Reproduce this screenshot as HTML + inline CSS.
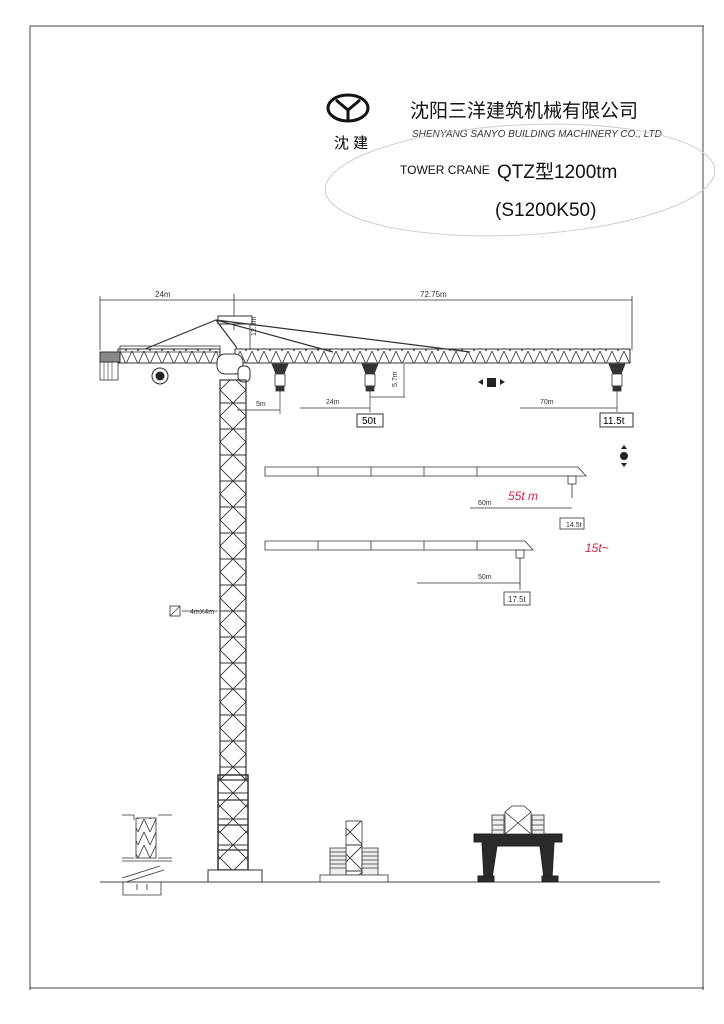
<!DOCTYPE html>
<html><head><meta charset="utf-8"><style>
html,body{margin:0;padding:0;background:#fff;}
svg{display:block}
text{font-family:"Liberation Sans","Noto Sans CJK SC",sans-serif;}
</style></head><body>
<svg width="724" height="1024" viewBox="0 0 724 1024" xmlns="http://www.w3.org/2000/svg">
<defs>
<pattern id="truss" x="0" y="0" width="12" height="13" patternUnits="userSpaceOnUse">
<path d="M0 0 L6 13 L12 0" stroke="#333" stroke-width="0.8" fill="none"/>
</pattern>
<pattern id="tower" x="220" y="0" width="26" height="26" patternUnits="userSpaceOnUse">
<path d="M0 0 L26 26 M26 0 L0 26 M0 13 H26" stroke="#333" stroke-width="0.9" fill="none"/>
</pattern>
</defs>
<!-- page border -->
<path d="M30 26 H704 M30 26 V990 M703 26 V990 M30 988 H704" stroke="#444" stroke-width="1" fill="none"/>

<!-- header -->
<g transform="translate(348,112)">
<ellipse cx="0" cy="-4" rx="20" ry="13" fill="none" stroke="#111" stroke-width="3"/>
<path d="M-12 -12 L0 -2 L12 -12 M0 -2 V8" stroke="#111" stroke-width="3" fill="none"/>
</g>
<text x="334" y="148" font-size="15">沈 建</text>
<text x="410" y="117" font-size="19" fill="#111">沈阳三洋建筑机械有限公司</text>
<text x="412" y="137" font-size="10" font-style="italic" font-family="Liberation Serif" fill="#333">SHENYANG SANYO BUILDING MACHINERY CO., LTD</text>
<text x="400" y="174" font-size="12" fill="#111">TOWER CRANE</text>
<text x="497" y="178" font-size="19" fill="#111">QTZ型1200tm</text>
<text x="495" y="216" font-size="19" fill="#111">(S1200K50)</text>
<ellipse cx="520" cy="180" rx="195" ry="55" fill="none" stroke="#ccc" stroke-width="1" transform="rotate(-3 520 180)"/>

<!-- dimension top -->
<g stroke="#333" stroke-width="0.8" fill="none">
<path d="M100 300 H632 M100 296 V350 M632 296 V350 M234 294 V330"/>
<path d="M250 320 V350"/>
</g>
<text x="155" y="297" font-size="8" fill="#333">24m</text>
<text x="420" y="297" font-size="8" fill="#333">72.75m</text>
<text x="256" y="336" font-size="7" fill="#333" transform="rotate(-90 256 336)">12.3m</text>

<!-- jib -->
<rect x="118" y="349" width="102" height="14" fill="url(#truss)" stroke="#333" stroke-width="1"/>
<rect x="235" y="349" width="395" height="14" fill="url(#truss)" stroke="#333" stroke-width="1"/>
<rect x="120" y="346" width="100" height="6" fill="none" stroke="#333" stroke-width="0.8"/>
<rect x="100" y="352" width="20" height="10" fill="#888" stroke="#333"/>
<rect x="100" y="362" width="18" height="18" fill="none" stroke="#333" stroke-width="0.8"/>
<path d="M104 362V380M108 362V380M112 362V380" stroke="#333" stroke-width="0.6"/>
<circle cx="160" cy="376" r="8" fill="#fff" stroke="#333"/>
<circle cx="160" cy="376" r="4.5" fill="#222"/>
<!-- apex -->
<rect x="218" y="316" width="34" height="8" fill="#fff" stroke="#333"/>
<path d="M145 349 L216 320 L333 352 M216 320 L470 352 M216 320 L237 348" stroke="#333" stroke-width="1.2" fill="none"/>
<rect x="217" y="354" width="26" height="20" rx="8" fill="#fff" stroke="#333"/>
<rect x="238" y="366" width="12" height="16" rx="5" fill="#fff" stroke="#333"/>

<!-- trolleys -->
<g fill="#333" stroke="#333" stroke-width="0.8">
<path d="M272 364 h16 l-4 10 h-8z"/><rect x="275" y="374" width="10" height="12" fill="#fff"/><rect x="276" y="386" width="8" height="5"/>
<path d="M362 364 h16 l-4 10 h-8z"/><rect x="365" y="374" width="10" height="12" fill="#fff"/><rect x="366" y="386" width="8" height="5"/>
<path d="M609 364 h16 l-4 10 h-8z"/><rect x="612" y="374" width="10" height="12" fill="#fff"/><rect x="613" y="386" width="8" height="5"/>
</g>
<g stroke="#333" stroke-width="0.7" fill="none">
<path d="M280 391 V414 M370 391 V412 M617 391 V412"/>
<path d="M237 410 H280 M300 408 H370 M520 408 H617 M370 397 H405 M404 364 V397"/>
</g>
<text x="256" y="406" font-size="7" fill="#333">5m</text>
<text x="326" y="404" font-size="7" fill="#333">24m</text>
<text x="540" y="404" font-size="7" fill="#333">70m</text>
<text x="397" y="387" font-size="7" fill="#333" transform="rotate(-90 397 387)">5.7m</text>
<rect x="357" y="414" width="26" height="13" fill="#fff" stroke="#333"/><text x="362" y="424" font-size="10">50t</text>
<rect x="600" y="413" width="33" height="14" fill="#fff" stroke="#333"/><text x="603" y="424" font-size="10">11.5t</text>
<rect x="487" y="378" width="9" height="9" fill="#222"/><path d="M478 382 l5 -3 v6z M505 382 l-5 -3 v6z" fill="#222"/>
<circle cx="624" cy="456" r="4" fill="#222"/><path d="M621 449 h6 l-3 -4z M621 463 h6 l-3 4z" fill="#222"/>

<!-- jib 2 -->
<g stroke="#333" stroke-width="0.8" fill="none">
<path d="M265 467 H578 L586 476 H265 Z M318 467V476 M371 467V476 M424 467V476 M477 467V476"/>
<path d="M572 476 V498 M470 508 H572"/>
<rect x="568" y="476" width="8" height="8" fill="#fff"/>
<rect x="560" y="518" width="24" height="11" fill="#fff"/>
<path d="M265 541 H525 L533 550 H265 Z M318 541V550 M371 541V550 M424 541V550 M477 541V550"/>
<path d="M520 550 V590 M417 583 H520"/>
<rect x="516" y="550" width="8" height="8" fill="#fff"/>
<rect x="504" y="592" width="26" height="13" fill="#fff"/>
</g>
<text x="478" y="505" font-size="7" fill="#333">60m</text>
<text x="566" y="527" font-size="7" fill="#333">14.5t</text>
<text x="478" y="579" font-size="7" fill="#333">50m</text>
<text x="508" y="602" font-size="8" fill="#333">17.5t</text>
<text x="508" y="500" font-size="12" fill="#d24" font-style="italic">55t m</text>
<text x="585" y="552" font-size="12" fill="#d24" font-style="italic">15t~</text>

<!-- tower -->
<rect x="220" y="380" width="26" height="400" fill="url(#tower)" stroke="#333" stroke-width="1.2"/>
<rect x="218" y="775" width="30" height="95" fill="url(#tower)" stroke="#333" stroke-width="1.5"/>
<path d="M218 800 H248 M218 825 H248 M218 850 H248" stroke="#333" stroke-width="1.2"/>
<rect x="208" y="870" width="54" height="12" fill="#fff" stroke="#333"/>
<rect x="170" y="606" width="10" height="10" fill="none" stroke="#333" stroke-width="0.8"/>
<path d="M170 616 L180 606 M182 611 H218" stroke="#333" stroke-width="0.7"/>
<text x="190" y="614" font-size="7" fill="#333">4mX4m</text>

<!-- ground -->
<path d="M100 882 H660" stroke="#444" stroke-width="1"/>

<!-- small left detail -->
<g stroke="#333" stroke-width="0.8" fill="none">
<rect x="136" y="818" width="20" height="40" fill="url(#truss)"/>
<path d="M122 815 H134 V820 M158 815 H172 M122 858 H134 M158 858 H172 M122 861 H172"/>
<path d="M122 878 L160 866 M126 882 L164 870"/>
<path d="M123 882 V895 H161 V882 M137 884 V890 M147 884 V890"/>
</g>

<!-- center counterweight -->
<g stroke="#333" stroke-width="0.8" fill="#fff">
<rect x="346" y="821" width="16" height="54" fill="url(#tower)"/>
<path d="M330 848 H346 V876 H330Z M362 848 H378 V876 H362Z" fill="#eee"/>
<path d="M330 852H346M330 856H346M330 860H346M330 864H346M330 868H346M362 852H378M362 856H378M362 860H378M362 864H378M362 868H378"/>
<rect x="320" y="875" width="68" height="7"/>
</g>

<!-- portal -->
<g stroke="#222" fill="#2a2a2a">
<path d="M474 834 H562 V842 H554 L552 878 H544 L540 846 H497 L492 878 H484 L482 842 H474 Z"/>
<rect x="478" y="876" width="16" height="6"/><rect x="542" y="876" width="16" height="6"/>
</g>
<g stroke="#333" stroke-width="0.8" fill="#fff">
<path d="M505 834 V812 L512 806 H524 L531 812 V834 Z"/>
<path d="M505 812 L531 834 M531 812 L505 834"/>
<rect x="492" y="815" width="12" height="19" fill="#eee"/><rect x="532" y="815" width="12" height="19" fill="#eee"/>
<path d="M492 820H504M492 825H504M492 830H504M532 820H544M532 825H544M532 830H544"/>
</g>
</svg>
</body></html>
